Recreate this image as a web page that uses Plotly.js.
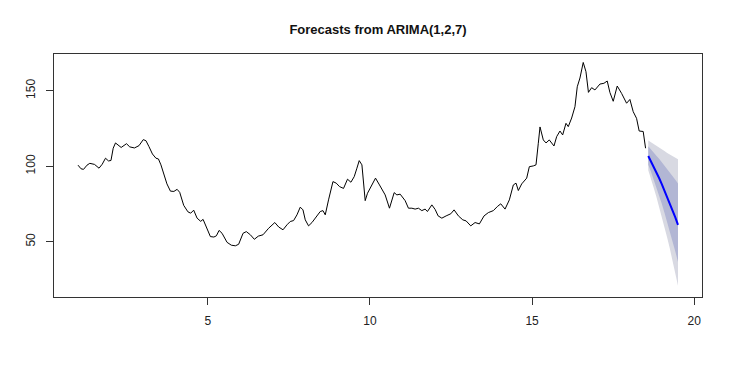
<!DOCTYPE html>
<html>
<head>
<meta charset="utf-8">
<script src="https://cdn.plot.ly/plotly-3.0.1.min.js"></script>
<style>html,body{margin:0;padding:0;background:#fff;}#chart{width:730px;height:365px;}</style>
</head>
<body>
<div id="chart"></div>
<script>
const obsX = [1.00,1.093,1.170,1.278,1.364,1.509,1.648,1.746,1.848,1.940,2.017,2.085,2.156,2.258,2.331,2.495,2.596,2.741,2.880,3.012,3.095,3.188,3.295,3.403,3.480,3.557,3.643,3.742,3.850,3.957,4.056,4.136,4.259,4.389,4.475,4.567,4.672,4.783,4.857,4.974,5.082,5.189,5.266,5.350,5.442,5.596,5.728,5.852,5.953,6.089,6.190,6.314,6.437,6.560,6.705,6.877,7.068,7.191,7.321,7.444,7.545,7.647,7.752,7.853,7.937,8.007,8.109,8.214,8.315,8.469,8.553,8.624,8.725,8.861,8.962,9.064,9.187,9.310,9.415,9.517,9.600,9.671,9.754,9.855,9.926,10.031,10.173,10.296,10.471,10.604,10.749,10.832,10.933,11.087,11.189,11.294,11.395,11.497,11.601,11.703,11.774,11.910,12.011,12.104,12.218,12.350,12.495,12.596,12.729,12.864,12.966,13.110,13.243,13.376,13.520,13.653,13.807,13.930,14.035,14.167,14.300,14.423,14.506,14.577,14.681,14.835,14.916,15.039,15.122,15.193,15.245,15.347,15.430,15.531,15.676,15.759,15.861,15.944,16.046,16.117,16.221,16.323,16.394,16.477,16.578,16.662,16.739,16.837,16.939,17.093,17.216,17.318,17.401,17.503,17.626,17.761,17.915,18.017,18.119,18.222,18.303,18.427,18.5];
const obsY = [100.7,98.3,97.9,100.7,101.9,101.2,98.7,101.3,105.3,103.5,103.8,111.9,115.4,113.6,112.4,114.9,112.8,112.1,113.6,117.6,116.9,113.0,108.1,105.3,104.8,100.9,94.2,88.3,83.5,83.3,84.7,82.7,74.1,69.8,68.9,70.9,65.6,63.5,64.8,59.0,53.4,53.1,53.9,57.5,55.6,49.6,47.7,47.3,48.3,55.6,56.7,54.6,51.6,53.7,54.6,58.9,62.7,59.7,57.9,61.2,63.4,64.0,67.8,72.9,71.1,64.5,60.5,62.7,65.6,70.0,70.6,67.8,77.7,89.8,88.8,86.5,85.3,91.4,89.4,93.1,98.7,103.7,100.9,77.2,82.1,86.5,92.1,87.6,81.0,72.2,82.5,81.0,81.5,77.2,72.2,72.2,71.6,72.2,70.6,71.6,70.0,74.4,71.4,67.1,65.6,67.1,68.5,71.1,67.1,64.5,63.8,60.5,62.7,61.8,67.1,69.3,70.6,73.3,75.1,71.6,77.7,87.6,88.8,83.9,88.3,92.1,99.7,100.2,100.9,115.2,126.0,117.4,115.4,117.4,113.4,119.6,123.3,120.7,128.4,126.2,131.9,139.4,152.6,158.4,168.7,162.6,148.9,152.0,150.5,154.4,154.9,156.4,148.8,143.0,153.1,148.2,141.7,144.2,136.1,131.7,123.3,123.0,111.9];

// Forecast horizon (12 steps) with point forecast and prediction intervals
const fcX = [18.583,18.667,18.750,18.833,18.917,19.000,19.083,19.167,19.250,19.333,19.417,19.500];
const fcMean = [106.8,103.4,99.8,96.0,92.2,88.2,84.0,79.7,75.3,70.8,66.1,61.2];
const hi95 = [117.0,115.9,114.8,113.5,112.4,111.2,110.0,108.7,107.6,106.6,105.6,104.6];
const lo95 = [97.3,91.8,85.8,79.7,73.4,66.8,59.8,52.7,45.3,37.5,29.4,20.8];
const hi80 = [113.2,111.3,109.3,107.0,104.9,102.7,100.4,98.0,95.6,93.4,91.0,88.5];
const lo80 = [101.0,96.3,91.2,86.0,80.7,75.1,69.2,63.2,56.9,50.4,43.6,36.5];

const xTicks = [5,10,15,20];
const yTicks = [50,100,150];

function band(lo, hi) {
  return {
    x: fcX.concat(fcX.slice().reverse()),
    y: hi.concat(lo.slice().reverse())
  };
}
const b95 = band(lo95, hi95);
const b80 = band(lo80, hi80);

const traces = [
  {x: b95.x, y: b95.y, type: 'scatter', mode: 'lines', fill: 'toself',
   fillcolor: '#d8d9e2', line: {width: 0, color: 'rgba(0,0,0,0)'}, hoverinfo: 'skip'},
  {x: b80.x, y: b80.y, type: 'scatter', mode: 'lines', fill: 'toself',
   fillcolor: '#b2b6d4', line: {width: 0, color: 'rgba(0,0,0,0)'}, hoverinfo: 'skip'},
  {x: obsX, y: obsY, type: 'scatter', mode: 'lines', line: {color: '#000000', width: 1}},
  {x: fcX, y: fcMean, type: 'scatter', mode: 'lines', line: {color: '#0000ff', width: 2}}
];

const axisCommon = {
  showgrid: false, zeroline: false, showline: true, mirror: true,
  linecolor: '#333333', linewidth: 1, ticks: 'outside', ticklen: 7,
  tickcolor: '#333333', tickwidth: 1,
  tickfont: {family: 'Liberation Sans, Arial, sans-serif', size: 12, color: '#222222'}
};

const layout = {
  width: 730, height: 365,
  margin: {l: 54, r: 28, t: 54, b: 68},
  paper_bgcolor: '#ffffff', plot_bgcolor: '#ffffff',
  showlegend: false,
  title: {
    text: 'Forecasts from ARIMA(1,2,7)',
    font: {family: 'Liberation Sans, Arial, sans-serif', size: 13, color: '#111111', weight: 'bold'},
    x: 0.5, xref: 'paper', xanchor: 'center',
    y: 1 - 29/365, yref: 'container', yanchor: 'middle'
  },
  xaxis: Object.assign({}, axisCommon, {
    range: [0.26, 20.24], tickmode: 'array', tickvals: xTicks,
    ticktext: xTicks.map(String), ticklabelstandoff: 6
  }),
  yaxis: Object.assign({}, axisCommon, {
    range: [13.4, 174.3], tickmode: 'array', tickvals: yTicks,
    ticktext: yTicks.map(String), tickangle: -90, ticklabelstandoff: 6
  })
};

Plotly.newPlot('chart', traces, layout, {displayModeBar: false, staticPlot: true});
</script>
</body>
</html>
